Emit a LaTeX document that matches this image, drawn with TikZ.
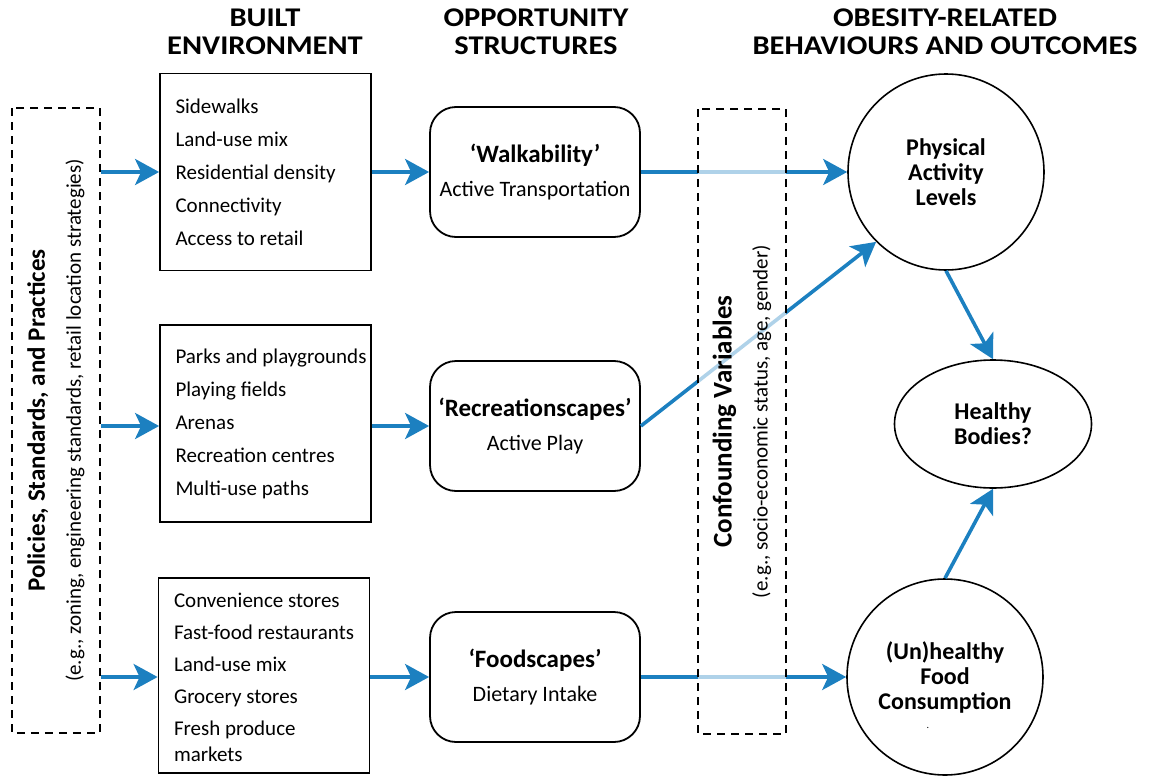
\documentclass[tikz,border=0pt]{standalone}
\usepackage{fontspec}
\setmainfont{Carlito}
\newfontfamily\hdrfont{Carlito}[FakeStretch=1.13]
\newcommand\oppttl{\fontsize{12.5}{13}\selectfont\bfseries}
\usetikzlibrary{arrows.meta,shapes.geometric}
\definecolor{flowblue}{RGB}{28,128,192}
\tikzset{
 hdr/.style={font=\hdrfont\fontsize{13.5}{14}\selectfont\bfseries, align=center},
 builtbox/.style={draw, line width=0.9pt, minimum width=105.5pt, minimum height=98.5pt, inner sep=0pt},
 listtext/.style={anchor=west, inner sep=0pt, align=left, font=\fontsize{10.5}{16.5}\selectfont},
 oppbox/.style={draw, rounded corners=13pt, line width=0.9pt, minimum width=105pt, minimum height=65pt, align=center, font=\fontsize{11}{17}\selectfont},
 outcircle/.style={draw, circle, line width=0.8pt, minimum size=98pt, inner sep=0pt, align=center, font=\fontsize{12}{12.5}\selectfont\bfseries},
 outellipse/.style={draw, ellipse, line width=0.8pt, minimum width=98.5pt, minimum height=64pt, inner sep=0pt, align=center, font=\fontsize{12}{12.5}\selectfont\bfseries},
 dashbox/.style={draw, dash pattern=on 4pt off 3pt, line width=0.8pt, rotate=90, minimum width=312.5pt, minimum height=44pt, inner sep=0pt, align=center, font=\fontsize{10.5}{16}\selectfont},
 flow/.style={draw=flowblue, line width=1.8pt, -{Stealth[length=12pt,width=13pt,inset=3pt]}},
}
\begin{document}
\begin{tikzpicture}[x=0.5pt,y=-0.5pt]
\useasboundingbox (0,0) rectangle (1152,776);
% headers
\node[hdr] (h1) at (265,32) {BUILT\\ENVIRONMENT};
\node[hdr] (h2) at (536,32) {OPPORTUNITY\\STRUCTURES};
\node[hdr] (h3) at (945,32) {OBESITY-RELATED\\BEHAVIOURS AND OUTCOMES};
% left dashed box
\node[dashbox] (pol) at (56,420.5) {{\fontsize{12.5}{16}\selectfont\bfseries Policies, Standards, and Practices}\\[2pt](e.g., zoning, engineering standards, retail location strategies)};
% built environment boxes
\node[builtbox] (b1) at (265.5,172) {};
\node[listtext] (t1) at ([xshift=8pt]b1.west) {Sidewalks\\Land-use mix\\Residential density\\Connectivity\\Access to retail};
\node[builtbox] (b2) at (265.5,423.5) {};
\node[listtext] (t2) at ([xshift=8pt]b2.west) {Parks and playgrounds\\Playing fields\\Arenas\\Recreation centres\\Multi-use paths};
\node[builtbox, minimum height=97.5pt] (b3) at (264,675.5) {};
\node[listtext, font=\fontsize{10.5}{16}\selectfont] (t3) at ([xshift=8pt,yshift=-1pt]b3.west) {Convenience stores\\Fast-food restaurants\\Land-use mix\\Grocery stores\\Fresh produce\\[-3pt]markets};
% opportunity structures
\node[oppbox] (o1) at (535,172) {{\oppttl ‘Walkability’}\\Active Transportation};
\node[oppbox] (o2) at (535,426) {{\oppttl ‘Recreationscapes’}\\Active Play};
\node[oppbox] (o3) at (535,677) {{\oppttl ‘Foodscapes’}\\Dietary Intake};
% outcomes
\node[outcircle] (c1) at (946,172) {Physical\\Activity\\Levels};
\node[outellipse] (hb) at (993,424) {Healthy\\Bodies?};
\node[outcircle] (c3) at (945,677) {(Un)healthy\\Food\\Consumption};
\node[font=\tiny, inner sep=0pt] (c3dot) at (928,728) {.};
% arrows
\draw[flow] (pol.south |- o1.west) -- (b1.west |- o1.west);
\draw[flow] (pol.south |- o2.west) -- (b2.west |- o2.west);
\draw[flow] (pol.south |- o3.west) -- (b3.west |- o3.west);
\draw[flow] (b1.east |- o1.west) -- (o1.west);
\draw[flow] (b2.east |- o2.west) -- (o2.west);
\draw[flow] (b3.east |- o3.west) -- (o3.west);
\draw[flow] (o1.east) -- (c1.west);
\draw[flow] (o2.east) -- (c1.225);
\draw[flow] (o3.east) -- (c3.west);
\draw[flow] (c1.south) -- (hb.north);
\draw[flow] (c3.north) -- (hb.south);
% confounding box (drawn over arrows, fading them)
\node[dashbox, fill=white, fill opacity=0.65, text opacity=1, draw opacity=1] (conf) at (742,421.5) {{\fontsize{13.5}{16}\selectfont\bfseries Confounding Variables}\\[2pt](e.g., socio-economic status, age, gender)};
\end{tikzpicture}
\end{document}
